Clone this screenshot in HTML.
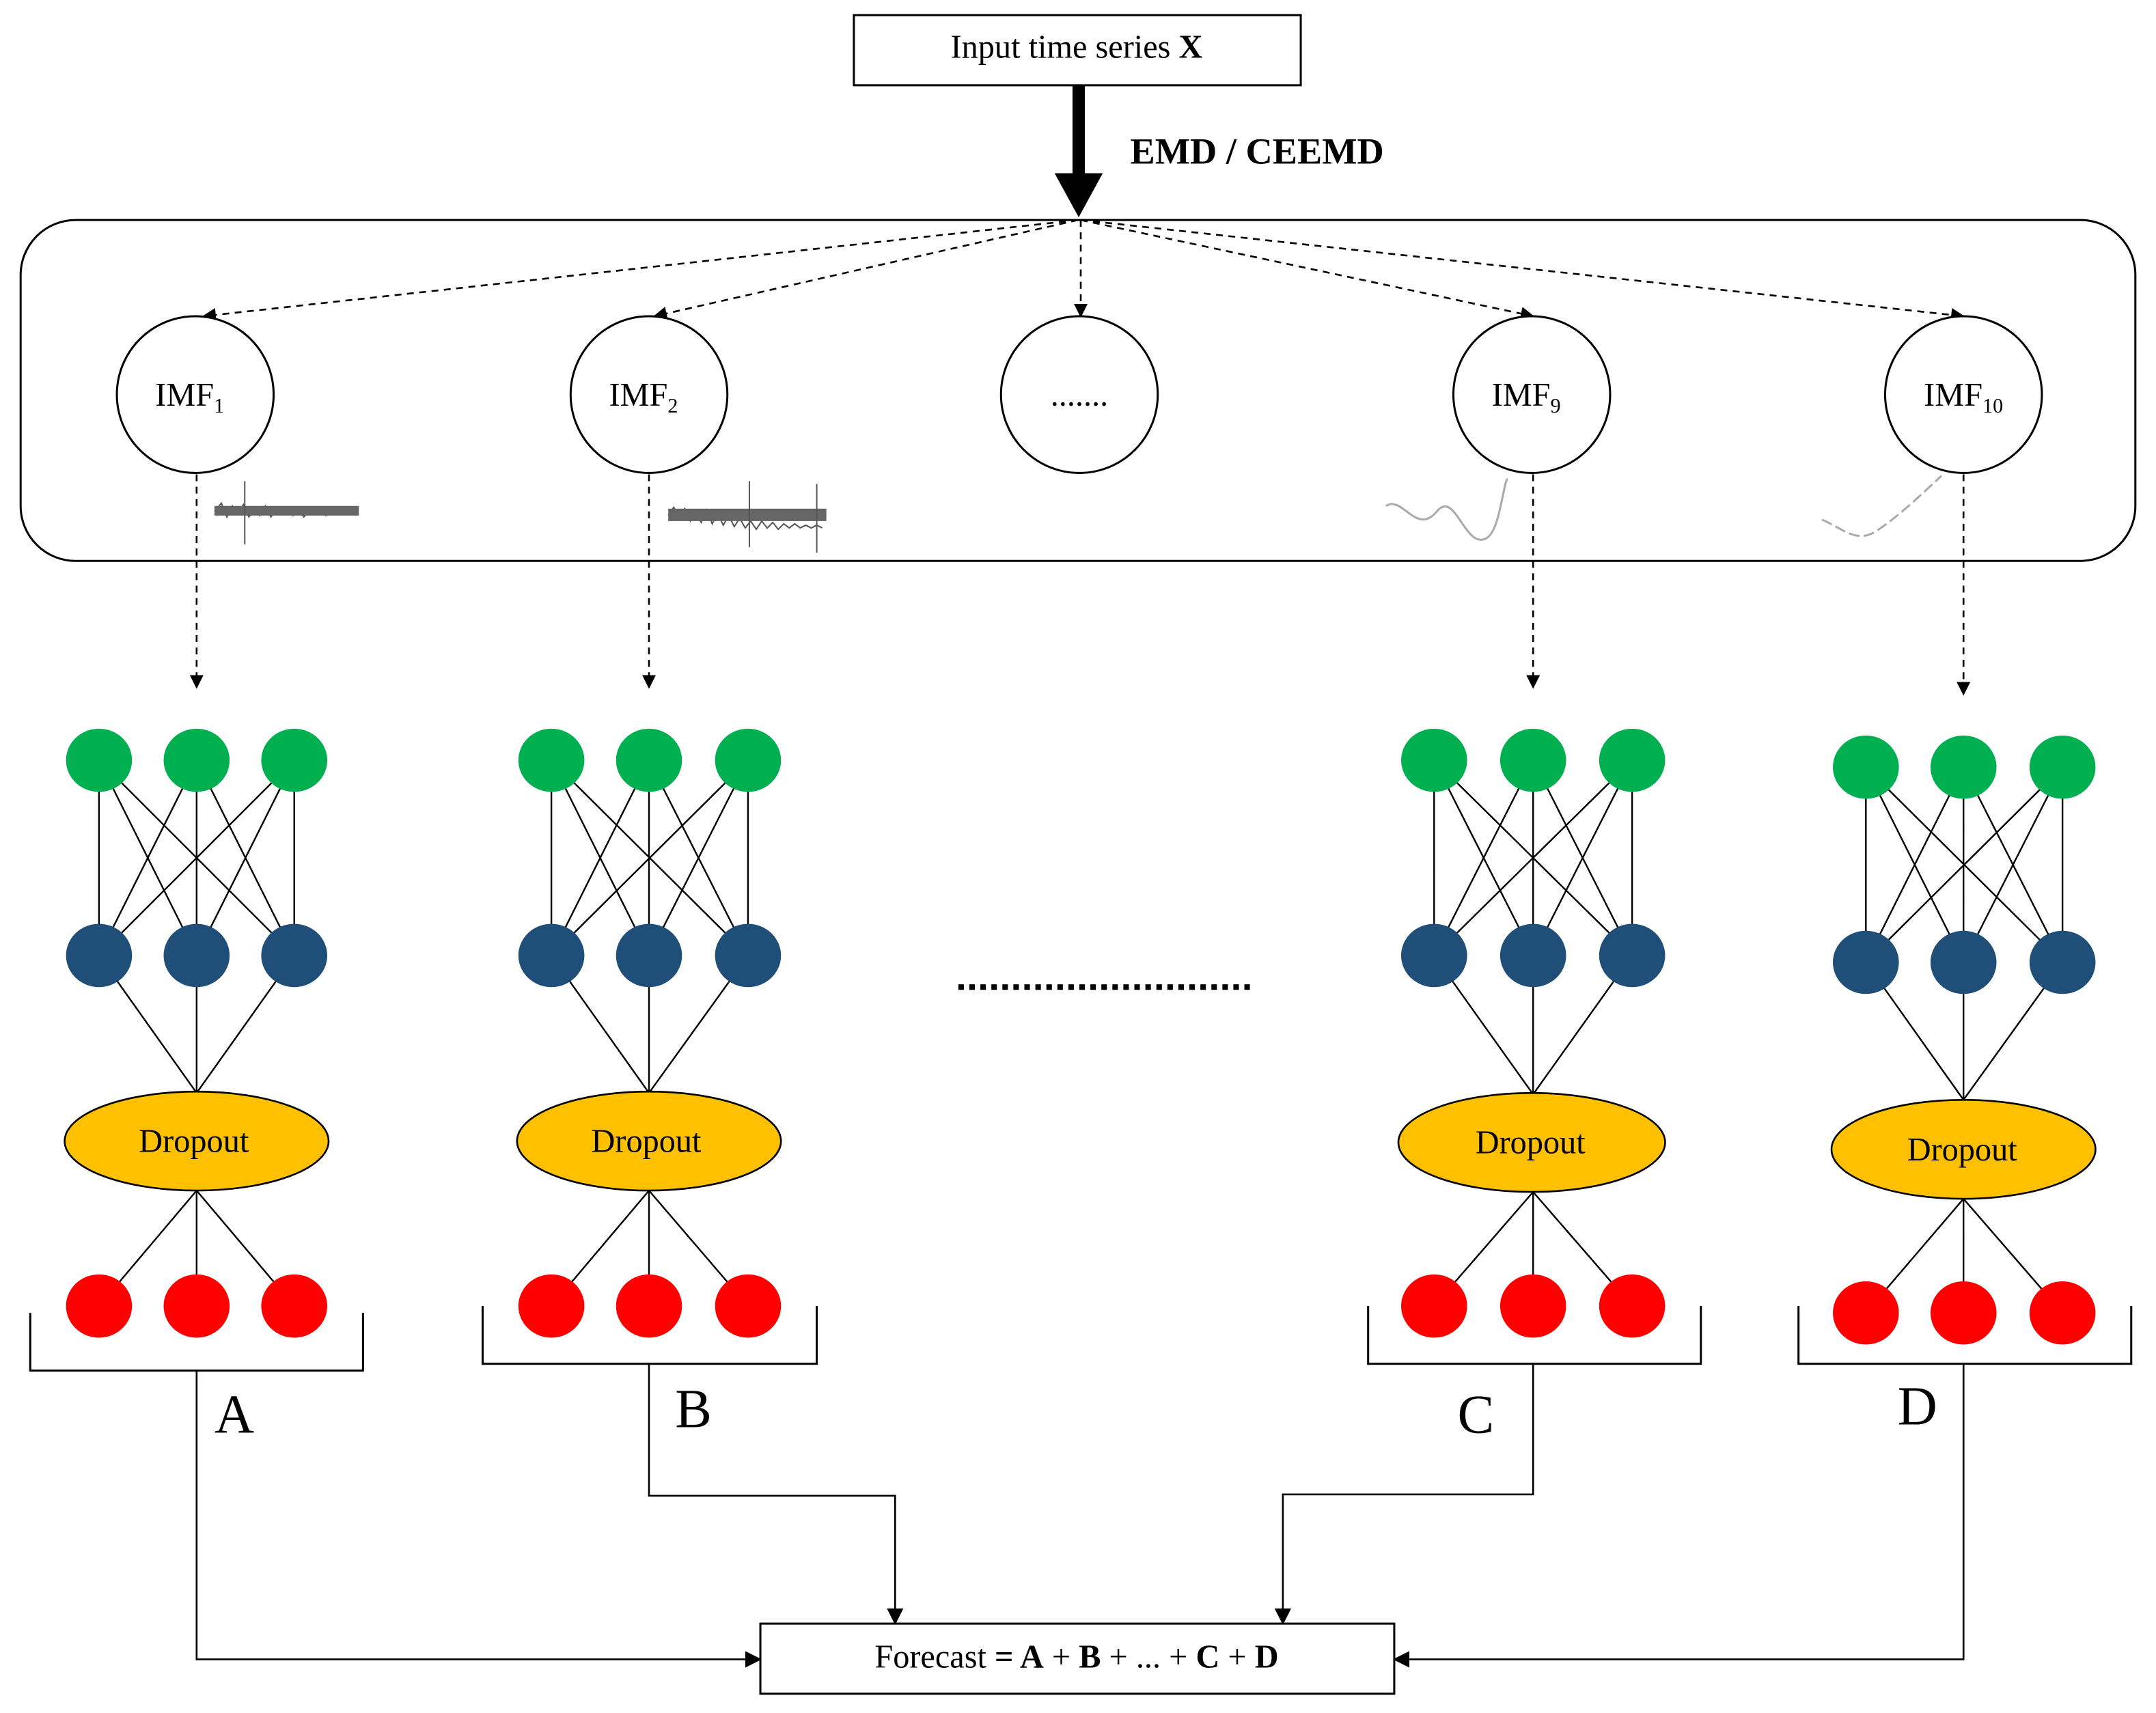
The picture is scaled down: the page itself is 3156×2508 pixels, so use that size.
<!DOCTYPE html>
<html><head><meta charset="utf-8"><style>html,body{margin:0;padding:0;background:#fff}svg{display:block}</style></head>
<body>
<svg width="3156" height="2508" viewBox="0 0 1568 1246" xmlns="http://www.w3.org/2000/svg" font-family="Liberation Serif, serif">
<defs>
<marker id="ah" markerWidth="10" markerHeight="10" refX="9" refY="5" orient="auto" markerUnits="userSpaceOnUse"><path d="M0,0 L10,5 L0,10 z" fill="#000"/></marker>
<marker id="ah2" markerWidth="12" markerHeight="12" refX="11" refY="6" orient="auto" markerUnits="userSpaceOnUse"><path d="M0,0 L12,6 L0,12 z" fill="#000"/></marker>
</defs>
<rect x="621" y="11" width="325" height="51" fill="#fff" stroke="#000" stroke-width="1.5"/>
<text x="783" y="42" font-size="24" text-anchor="middle">Input time series <tspan font-weight="bold">X</tspan></text>
<rect x="780" y="62" width="9" height="66" fill="#000"/>
<path d="M767,126 L802,126 L784.5,158 z" fill="#000"/>
<text x="822" y="119" font-size="27" font-weight="bold">EMD / CEEMD</text>
<rect x="15" y="160" width="1538" height="248" rx="40" ry="40" fill="none" stroke="#000" stroke-width="1.5"/>
<g stroke="#000" stroke-width="1.3" stroke-dasharray="5,4" fill="none" marker-end="url(#ah)">
<line x1="784" y1="160" x2="148" y2="230"/>
<line x1="784" y1="160" x2="476" y2="230"/>
<line x1="786" y1="160" x2="786" y2="230"/>
<line x1="786" y1="160" x2="1115" y2="230"/>
<line x1="786" y1="160" x2="1428" y2="230"/>
<line x1="143" y1="345" x2="143" y2="500"/>
<line x1="472" y1="345" x2="472" y2="500"/>
<line x1="1115" y1="345" x2="1115" y2="500"/>
<line x1="1428" y1="345" x2="1428" y2="505"/>
</g>
<g fill="#fff" stroke="#000" stroke-width="1.5">
<circle cx="142" cy="287" r="57"/><circle cx="472" cy="287" r="57"/><circle cx="785" cy="287" r="57"/><circle cx="1114" cy="287" r="57"/><circle cx="1428" cy="287" r="57"/>
</g>
<g font-size="24" text-anchor="middle">
<text x="138" y="295">IMF<tspan font-size="15" dy="5">1</tspan></text>
<text x="468" y="295">IMF<tspan font-size="15" dy="5">2</tspan></text>
<text x="785" y="295">.......</text>
<text x="1110" y="295">IMF<tspan font-size="15" dy="5">9</tspan></text>
<text x="1428" y="295">IMF<tspan font-size="15" dy="5">10</tspan></text>
</g>
<g stroke="#555" stroke-width="1" fill="none">
<path d="M156,372 l5,-6 l4,10 l4,-8 l4,6 l4,-7 l4,9 l4,-6 l4,5 l4,-7 l4,8 l4,-6 l4,4 l4,-5 l4,6 l4,-4 l4,5 l4,-6 l4,4 l4,-5 l4,6 l4,-3 l4,2"/>
<rect x="156" y="368" width="105" height="7" fill="#666" stroke="none"/>
<line x1="178" y1="350" x2="178" y2="396"/>
<path d="M486,375 l4,-6 l4,8 l4,-7 l4,9 l4,-6 l4,7 l4,-9 l4,10 l4,-8 l4,9 l4,-7 l4,8 l4,-6 l4,7 l4,-5 l4,6 l4,-6 l4,5 l4,-4 l4,5 l4,-4 l4,3 l4,-3 l4,3 l4,-2 l4,2 l4,-2 l4,2"/>
<rect x="486" y="370" width="115" height="9" fill="#666" stroke="none"/>
<line x1="545" y1="350" x2="545" y2="398"/><line x1="594" y1="352" x2="594" y2="402"/>
<path d="M1008,368 C1020,360 1030,390 1045,372 C1058,356 1065,398 1080,392 C1090,388 1092,360 1096,348" stroke="#aaa" stroke-width="1.5"/>
<path d="M1325,378 C1340,384 1350,396 1365,386 C1380,376 1395,362 1412,346" stroke="#aaa" stroke-width="1.5" stroke-dasharray="8,3"/>
</g>
<g id="n1">
</g>
<!-- networks -->
<g stroke="#000" stroke-width="1.2" fill="none">
<!-- net1 -->
<path d="M72,553 L72,695 M72,553 L143,695 M72,553 L214,695 M143,553 L72,695 M143,553 L143,695 M143,553 L214,695 M214,553 L72,695 M214,553 L143,695 M214,553 L214,695 M72,695 L143,795 M143,695 L143,795 M214,695 L143,795 M143,866 L72,950 M143,866 L143,950 M143,866 L214,950"/>
<path d="M401,553 L401,695 M401,553 L472,695 M401,553 L544,695 M472,553 L401,695 M472,553 L472,695 M472,553 L544,695 M544,553 L401,695 M544,553 L472,695 M544,553 L544,695 M401,695 L472,795 M472,695 L472,795 M544,695 L472,795 M472,866 L401,950 M472,866 L472,950 M472,866 L544,950"/>
<path d="M1043,553 L1043,695 M1043,553 L1115,695 M1043,553 L1187,695 M1115,553 L1043,695 M1115,553 L1115,695 M1115,553 L1187,695 M1187,553 L1043,695 M1187,553 L1115,695 M1187,553 L1187,695 M1043,695 L1115,796 M1115,695 L1115,796 M1187,695 L1115,796 M1115,867 L1043,950 M1115,867 L1115,950 M1115,867 L1187,950"/>
<path d="M1357,558 L1357,700 M1357,558 L1428,700 M1357,558 L1500,700 M1428,558 L1357,700 M1428,558 L1428,700 M1428,558 L1500,700 M1500,558 L1357,700 M1500,558 L1428,700 M1500,558 L1500,700 M1357,700 L1428,800 M1428,700 L1428,800 M1500,700 L1428,800 M1428,872 L1357,955 M1428,872 L1428,955 M1428,872 L1500,955"/>
</g>
<g fill="#00b050">
<ellipse cx="72" cy="553" rx="24" ry="23"/><ellipse cx="143" cy="553" rx="24" ry="23"/><ellipse cx="214" cy="553" rx="24" ry="23"/>
<ellipse cx="401" cy="553" rx="24" ry="23"/><ellipse cx="472" cy="553" rx="24" ry="23"/><ellipse cx="544" cy="553" rx="24" ry="23"/>
<ellipse cx="1043" cy="553" rx="24" ry="23"/><ellipse cx="1115" cy="553" rx="24" ry="23"/><ellipse cx="1187" cy="553" rx="24" ry="23"/>
<ellipse cx="1357" cy="558" rx="24" ry="23"/><ellipse cx="1428" cy="558" rx="24" ry="23"/><ellipse cx="1500" cy="558" rx="24" ry="23"/>
</g>
<g fill="#1f4e79">
<ellipse cx="72" cy="695" rx="24" ry="23"/><ellipse cx="143" cy="695" rx="24" ry="23"/><ellipse cx="214" cy="695" rx="24" ry="23"/>
<ellipse cx="401" cy="695" rx="24" ry="23"/><ellipse cx="472" cy="695" rx="24" ry="23"/><ellipse cx="544" cy="695" rx="24" ry="23"/>
<ellipse cx="1043" cy="695" rx="24" ry="23"/><ellipse cx="1115" cy="695" rx="24" ry="23"/><ellipse cx="1187" cy="695" rx="24" ry="23"/>
<ellipse cx="1357" cy="700" rx="24" ry="23"/><ellipse cx="1428" cy="700" rx="24" ry="23"/><ellipse cx="1500" cy="700" rx="24" ry="23"/>
</g>
<g fill="#ff0000">
<ellipse cx="72" cy="950" rx="24" ry="23"/><ellipse cx="143" cy="950" rx="24" ry="23"/><ellipse cx="214" cy="950" rx="24" ry="23"/>
<ellipse cx="401" cy="950" rx="24" ry="23"/><ellipse cx="472" cy="950" rx="24" ry="23"/><ellipse cx="544" cy="950" rx="24" ry="23"/>
<ellipse cx="1043" cy="950" rx="24" ry="23"/><ellipse cx="1115" cy="950" rx="24" ry="23"/><ellipse cx="1187" cy="950" rx="24" ry="23"/>
<ellipse cx="1357" cy="955" rx="24" ry="23"/><ellipse cx="1428" cy="955" rx="24" ry="23"/><ellipse cx="1500" cy="955" rx="24" ry="23"/>
</g>
<g fill="#ffc000" stroke="#000" stroke-width="1.3">
<ellipse cx="143" cy="830" rx="96" ry="36"/><ellipse cx="472" cy="830" rx="96" ry="36"/><ellipse cx="1114" cy="831" rx="97" ry="36"/><ellipse cx="1428" cy="836" rx="96" ry="36"/>
</g>
<g font-size="24" text-anchor="middle">
<text x="141" y="838">Dropout</text><text x="470" y="838">Dropout</text><text x="1113" y="839">Dropout</text><text x="1427" y="844">Dropout</text>
</g>
<line x1="697" y1="718" x2="911" y2="718" stroke="#000" stroke-width="4" stroke-dasharray="4,4"/>
<g stroke="#000" stroke-width="1.5" fill="none">
<path d="M22,955 L22,997 L264,997 L264,955"/>
<path d="M351,950 L351,992 L594,992 L594,950"/>
<path d="M995,950 L995,992 L1237,992 L1237,950"/>
<path d="M1308,950 L1308,992 L1550,992 L1550,950"/>
</g>
<g font-size="40">
<text x="156" y="1042">A</text><text x="491" y="1038">B</text><text x="1060" y="1042">C</text><text x="1380" y="1036">D</text>
</g>
<g stroke="#000" stroke-width="1.3" fill="none" marker-end="url(#ah2)">
<path d="M143,997 L143,1207 L553,1207"/>
<path d="M472,992 L472,1088 L651,1088 L651,1181"/>
<path d="M1115,992 L1115,1087 L933,1087 L933,1181"/>
<path d="M1428,992 L1428,1207 L1014,1207"/>
</g>
<rect x="553" y="1181" width="461" height="51" fill="#fff" stroke="#000" stroke-width="1.5"/>
<text x="783" y="1213" font-size="24" text-anchor="middle">Forecast <tspan font-weight="bold">= A</tspan> + <tspan font-weight="bold">B</tspan> + ... + <tspan font-weight="bold">C</tspan> + <tspan font-weight="bold">D</tspan></text>
</svg>
</body></html>
